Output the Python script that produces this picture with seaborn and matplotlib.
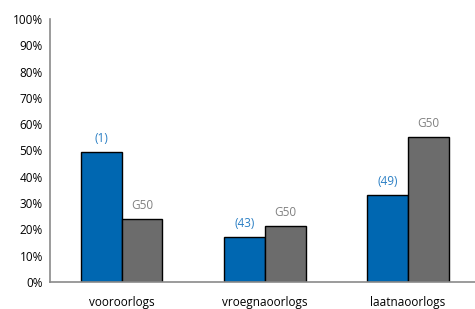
import numpy as np
import pandas as pd
import matplotlib
matplotlib.use('Agg')
import matplotlib.pyplot as plt
import seaborn as sns

categories = ['vooroorlogs', 'vroegnaoorlogs', 'laatnaoorlogs']
groups = ['selectie', 'G50']
selectie = [49.5, 17.2, 33.2]
g50 = [24.0, 21.4, 55.2]
selectie_labels = ['(1)', '(43)', '(49)']
g50_labels = ['G50', 'G50', 'G50']

df = pd.DataFrame({
    'categorie': categories * 2,
    'groep': [groups[0]] * 3 + [groups[1]] * 3,
    'waarde': selectie + g50,
})

sns.set_style('white')
plt.rcParams['font.family'] = ['Open Sans', 'DejaVu Sans']

blue = '#0067b1'
grey = '#6c6c6c'
axis_grey = '#8a8a8a'

fig = plt.figure(figsize=(4.75, 3.09), dpi=100)
ax = fig.add_axes([0.105, 0.087, 0.905, 0.852])

sns.barplot(data=df, x='categorie', y='waarde', hue='groep',
            palette=[blue, grey], width=0.57, edgecolor='black',
            linewidth=1.0, saturation=1, legend=False, ax=ax)

# labels above the bars
ax.bar_label(ax.containers[0], labels=selectie_labels, padding=5,
             color='#2a7fc4', fontsize=8.5)
ax.bar_label(ax.containers[1], labels=g50_labels, padding=5,
             color='#808080', fontsize=8.5)

ax.set_ylim(0, 100)
ax.set_xlim(-0.5, 2.5)
ax.set_yticks(np.arange(0, 101, 10))
ax.set_yticklabels([f'{v}%' for v in range(0, 101, 10)])
ax.set_xlabel('')
ax.set_ylabel('')

# ticks between categories on the x axis
ax.set_xticks([0, 1, 2])
ax.set_xticks([0.5, 1.5], minor=True)
ax.tick_params(axis='x', which='major', length=0, pad=10, labelsize=8.5, colors='black')
ax.tick_params(axis='x', which='minor', length=3, width=1, color=axis_grey, direction='out')
ax.tick_params(axis='y', length=3, width=1, color=axis_grey, direction='out',
               labelsize=8.5, labelcolor='black', pad=2)

for side in ['top', 'right']:
    ax.spines[side].set_visible(False)
for side in ['left', 'bottom']:
    ax.spines[side].set_color(axis_grey)
    ax.spines[side].set_linewidth(1.2)

fig.savefig('out.png', dpi=100)
